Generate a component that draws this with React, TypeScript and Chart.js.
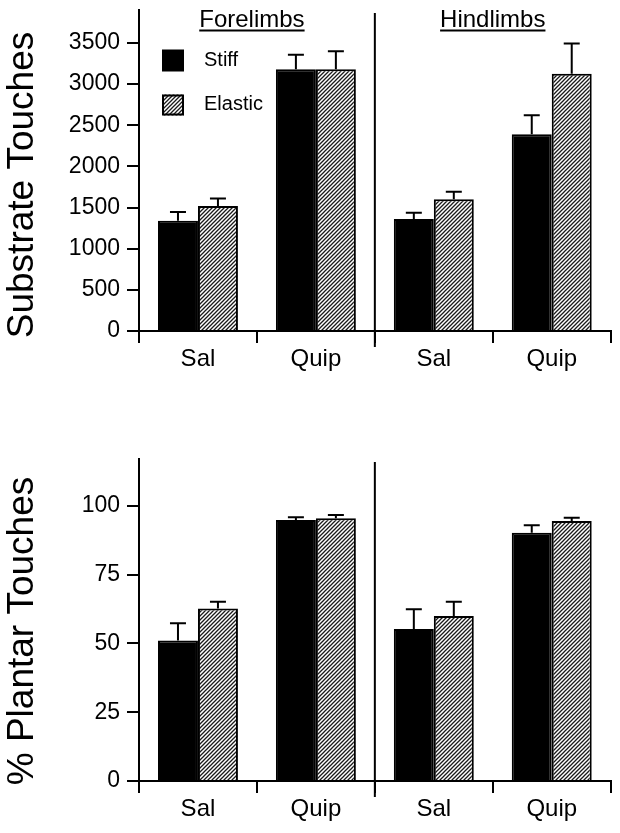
import React, { useEffect, useRef } from 'react';
import { Chart, registerables } from 'chart.js';

Chart.register(...registerables);

// ---------- data ----------
const categories = ['Sal', 'Quip', 'Sal', 'Quip'];
const limbGroups = ['Forelimbs', 'Hindlimbs'];
const seriesNames = ['Stiff', 'Elastic'];

const touchesStiff = [1340, 3180, 1360, 2390];
const touchesStiffErr = [105, 175, 78, 230];
const touchesElastic = [1520, 3180, 1600, 3125];
const touchesElasticErr = [90, 218, 92, 368];

const plantarStiff = [51.0, 94.8, 55.2, 90.2];
const plantarStiffErr = [6.3, 1.0, 7.2, 2.7];
const plantarElastic = [62.7, 95.4, 59.9, 94.4];
const plantarElasticErr = [2.4, 1.2, 5.2, 1.2];

const touchesTicks = [0, 500, 1000, 1500, 2000, 2500, 3000, 3500];
const plantarTicks = [0, 25, 50, 75, 100];

const touchesAxis = { max: 3900, ticks: touchesTicks, title: 'Substrate Touches' };
const plantarAxis = { max: 117, ticks: plantarTicks, title: '% Plantar Touches' };

// ---------- styling ----------
const FAMILY = "'Liberation Sans', Arial, Helvetica, sans-serif";
const W = 620;
const AREA_LEFT = 139;
const AREA_RIGHT = 610.7;

function makeHatch(): CanvasPattern | string {
  const c = document.createElement('canvas');
  const s = 4;
  c.width = s;
  c.height = s;
  const g = c.getContext('2d');
  if (!g) return '#888';
  g.fillStyle = '#fff';
  g.fillRect(0, 0, s, s);
  g.strokeStyle = '#1a1a1a';
  g.lineWidth = 1.3;
  g.beginPath();
  g.moveTo(-1, s + 1);
  g.lineTo(s + 1, -1);
  g.moveTo(-1, 1);
  g.lineTo(1, -1);
  g.moveTo(s - 1, s + 1);
  g.lineTo(s + 1, s - 1);
  g.stroke();
  return g.createPattern(c, 'repeat') || '#888';
}

const errorBarPlugin = {
  id: 'errorBars',
  afterDatasetsDraw(chart: any) {
    const ctx = chart.ctx;
    const yScale = chart.scales.y;
    ctx.save();
    ctx.strokeStyle = '#000';
    ctx.lineWidth = 2;
    chart.data.datasets.forEach((ds: any, i: number) => {
      const meta = chart.getDatasetMeta(i);
      meta.data.forEach((el: any, j: number) => {
        const v = ds.data[j];
        const e = ds.errors[j];
        const yTop = yScale.getPixelForValue(v + e);
        ctx.beginPath();
        ctx.moveTo(el.x, el.y);
        ctx.lineTo(el.x, yTop);
        ctx.moveTo(el.x - 8, yTop);
        ctx.lineTo(el.x + 8, yTop);
        ctx.stroke();
      });
    });
    ctx.restore();
  },
};

const separatorPlugin = {
  id: 'separator',
  afterDraw(chart: any) {
    const x0 = chart.scales.x.getPixelForValue(1);
    const x1 = chart.scales.x.getPixelForValue(2);
    const x = (x0 + x1) / 2;
    const { top, bottom } = chart.chartArea;
    const ctx = chart.ctx;
    ctx.save();
    ctx.strokeStyle = '#000';
    ctx.lineWidth = 2;
    ctx.beginPath();
    ctx.moveTo(x, top + 3);
    ctx.lineTo(x, bottom + 16);
    ctx.stroke();
    ctx.restore();
  },
};

function sideTitlePlugin(text: string, centerY: number) {
  return {
    id: 'sideTitle',
    afterDraw(chart: any) {
      const ctx = chart.ctx;
      ctx.save();
      ctx.fillStyle = '#000';
      ctx.font = `37px ${FAMILY}`;
      ctx.translate(33, centerY);
      ctx.rotate(-Math.PI / 2);
      ctx.textAlign = 'center';
      ctx.textBaseline = 'alphabetic';
      ctx.fillText(text, 0, 0);
      ctx.restore();
    },
  };
}

function headerLegendPlugin(hatch: CanvasPattern | string) {
  return {
    id: 'headerLegend',
    afterDraw(chart: any) {
      const ctx = chart.ctx;
      const xs = chart.scales.x;
      ctx.save();
      ctx.fillStyle = '#000';
      ctx.font = `24px ${FAMILY}`;
      ctx.textAlign = 'center';
      ctx.textBaseline = 'alphabetic';
      const centers = [
        (xs.getPixelForValue(0) + xs.getPixelForValue(1)) / 2 - 5,
        (xs.getPixelForValue(2) + xs.getPixelForValue(3)) / 2,
      ];
      limbGroups.forEach((g, i) => {
        const w = ctx.measureText(g).width;
        ctx.fillText(g, centers[i], 27);
        ctx.fillRect(centers[i] - w / 2, 29.5, w, 2);
      });
      const bx = chart.chartArea.left + 23;
      ctx.fillRect(bx, 49.5, 22, 22);
      ctx.fillStyle = hatch as any;
      ctx.fillRect(bx, 94.5, 22, 21);
      ctx.strokeStyle = '#000';
      ctx.lineWidth = 2;
      ctx.strokeRect(bx + 1, 95.5, 20, 19);
      ctx.fillStyle = '#000';
      ctx.font = `20px ${FAMILY}`;
      ctx.textAlign = 'left';
      ctx.textBaseline = 'middle';
      ctx.fillText(seriesNames[0], bx + 42, 60.5);
      ctx.fillText(seriesNames[1], bx + 42, 104);
      ctx.restore();
    },
  };
}

interface PanelProps {
  stiff: number[];
  stiffErr: number[];
  elastic: number[];
  elasticErr: number[];
  axis: { max: number; ticks: number[]; title: string };
  height: number;
  areaTop: number;
  areaBottom: number;
  titleY: number;
  withHeader: boolean;
}

function Panel(props: PanelProps) {
  const ref = useRef<HTMLCanvasElement>(null);
  useEffect(() => {
    if (!ref.current) return;
    const hatch = makeHatch();
    const yFont = { family: FAMILY, size: 23 };
    const xFont = { family: FAMILY, size: 24 };
    const plugins: any[] = [errorBarPlugin, separatorPlugin, sideTitlePlugin(props.axis.title, props.titleY)];
    if (props.withHeader) plugins.push(headerLegendPlugin(hatch));
    const chart = new Chart(ref.current, {
      type: 'bar',
      data: {
        labels: categories,
        datasets: [
          {
            label: seriesNames[0],
            data: props.stiff,
            errors: props.stiffErr,
            backgroundColor: '#000',
            borderColor: '#000',
            borderWidth: 2,
          } as any,
          {
            label: seriesNames[1],
            data: props.elastic,
            errors: props.elasticErr,
            backgroundColor: hatch,
            borderColor: '#000',
            borderWidth: 2,
          } as any,
        ],
      },
      options: {
        responsive: false,
        animation: false,
        devicePixelRatio: 1,
        events: [],
        layout: { padding: { left: 0, right: W - AREA_RIGHT, top: props.areaTop, bottom: 0 } },
        plugins: { legend: { display: false }, tooltip: { enabled: false } },
        datasets: { bar: { categoryPercentage: 0.678, barPercentage: 1 } },
        scales: {
          x: {
            z: 1,
            grid: {
              offset: true,
              drawOnChartArea: false,
              drawTicks: true,
              tickLength: 12,
              lineWidth: 2,
              color: '#000',
            },
            border: { display: true, width: 2, color: '#000' },
            ticks: { font: xFont, color: '#000', padding: 2, maxRotation: 0, autoSkip: false },
            afterFit: (s: any) => {
              s.height = props.height - props.areaBottom;
              s.paddingLeft = 0;
              s.paddingRight = 0;
            },
          },
          y: {
            z: 1,
            min: 0,
            max: props.axis.max,
            grid: { drawOnChartArea: false, tickLength: 12, lineWidth: 2, color: '#000' },
            border: { display: true, width: 2, color: '#000' },
            ticks: {
              font: yFont,
              color: '#000',
              padding: 7,
              callback: (v: any) => String(v),
            } as any,
            afterBuildTicks: (s: any) => {
              s.ticks = props.axis.ticks.map((v) => ({ value: v }));
            },
            afterFit: (s: any) => {
              s.width = AREA_LEFT;
              s.paddingTop = 0;
              s.paddingBottom = 0;
            },
          },
        },
      } as any,
      plugins,
    });
    return () => chart.destroy();
  }, []);
  return <canvas ref={ref} width={W} height={props.height} style={{ display: 'block' }} />;
}

export default function App() {
  return (
    <div style={{ position: 'absolute', left: 0, top: 0, width: W, height: 833, background: '#fff' }}>
      <div style={{ position: 'absolute', left: 0, top: 0 }}>
        <Panel
          stiff={touchesStiff}
          stiffErr={touchesStiffErr}
          elastic={touchesElastic}
          elasticErr={touchesElasticErr}
          axis={touchesAxis}
          height={420}
          areaTop={10}
          areaBottom={331}
          titleY={185}
          withHeader={true}
        />
      </div>
      <div style={{ position: 'absolute', left: 0, top: 420 }}>
        <Panel
          stiff={plantarStiff}
          stiffErr={plantarStiffErr}
          elastic={plantarElastic}
          elasticErr={plantarElasticErr}
          axis={plantarAxis}
          height={413}
          areaTop={38.9}
          areaBottom={361}
          titleY={211}
          withHeader={false}
        />
      </div>
    </div>
  );
}
